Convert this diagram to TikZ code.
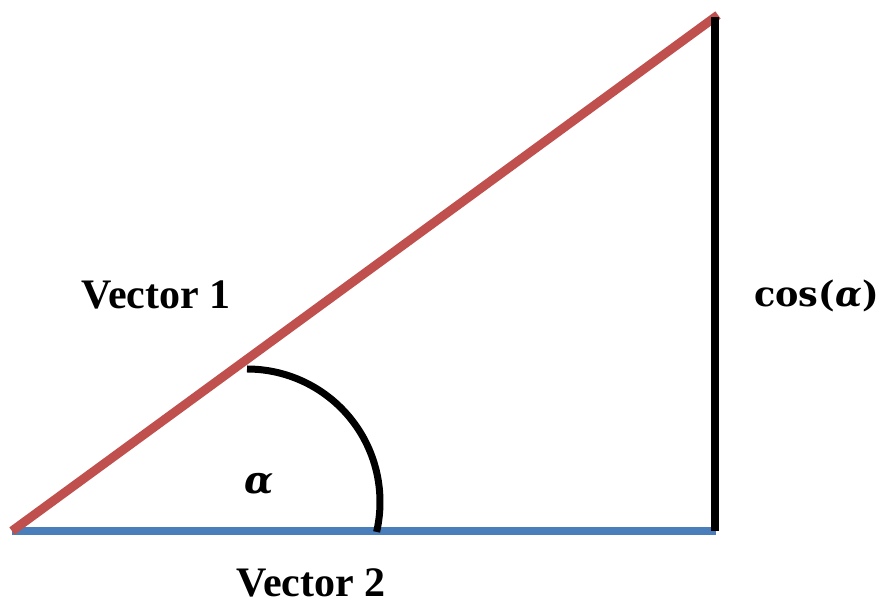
\documentclass[tikz,border=0pt]{standalone}
\usepackage{fontspec}
\setmainfont{Liberation Serif}
\newfontfamily\mathserif{DejaVu Serif}
\definecolor{vred}{HTML}{C0504D}
\definecolor{vblue}{HTML}{4A7EBB}
\begin{document}
\begin{tikzpicture}[x=1pt,y=1pt,
  vecred/.style={draw=vred,line width=9pt,line cap=butt},
  vecblue/.style={draw=vblue,line width=8.5pt,line cap=butt},
  sideline/.style={draw=black,line width=8pt,line cap=butt},
  anglearc/.style={draw=black,line width=7pt,line cap=butt},
  lbl/.style={inner sep=0pt,font=\fontsize{42}{48}\selectfont\bfseries},
  mlbl/.style={inner sep=0pt,font=\fontsize{35}{40}\selectfont\mathserif\bfseries}]
\useasboundingbox (0,0) rectangle (882,601);
\coordinate (A) at (12,70);
\coordinate (B) at (716,70);
\coordinate (Bb) at (715,70);
\coordinate (C) at (715,584);
\coordinate (R) at (718,586);
\coordinate (arcstart) at (247,232);
\draw[vecblue] (A) -- (B);
\draw[vecred] (A) -- (R);
\draw[sideline] (Bb) -- (C);
\draw[anglearc] (arcstart) arc[start angle=90,end angle=-13,radius=133];
\node[lbl,anchor=base] (v1) at (156,292) {Vector 1};
\node[lbl,anchor=base] (v2) at (311,4) {Vector 2};
\node[mlbl,anchor=base west] (cosa) at (754,294) {cos(\textit{α})};
\node[mlbl,anchor=base,font=\fontsize{38}{44}\selectfont\mathserif\bfseries\itshape] (alpha) at (259,107) {α};
\end{tikzpicture}
\end{document}
